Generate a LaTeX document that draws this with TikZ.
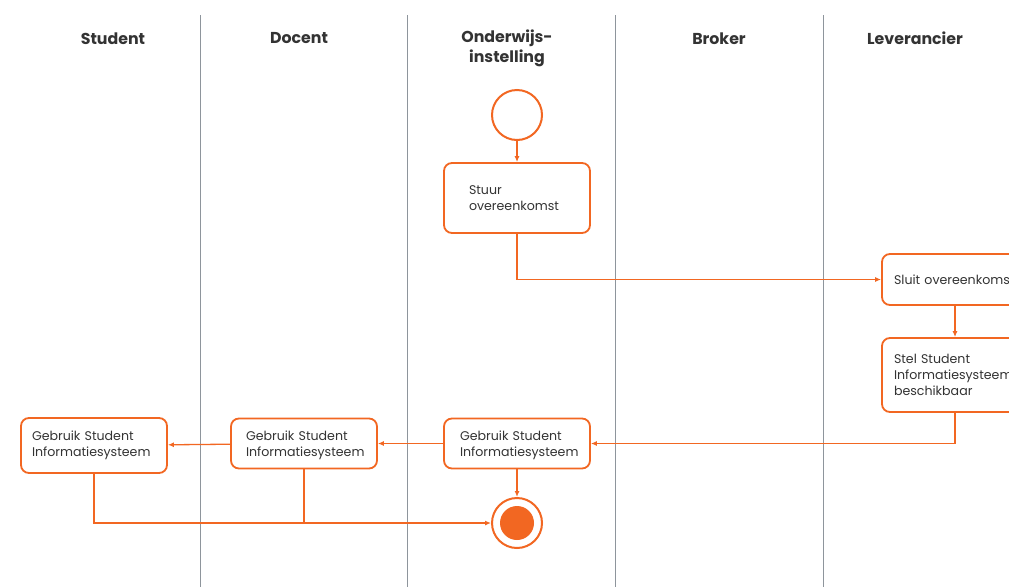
\documentclass[tikz,border=0pt]{standalone}
\usepackage{fontspec}
\setmainfont{Poppins}
\usetikzlibrary{arrows.meta}
\definecolor{orng}{HTML}{F26722}
\definecolor{lanec}{HTML}{8E959C}
\definecolor{txt}{HTML}{333333}
\begin{document}
\begin{tikzpicture}[x=1pt,y=-1pt,
  act/.style={draw=orng,line width=1.8pt,rounded corners=8pt,fill=white,align=left,
    font=\fontsize{12.6}{16}\selectfont,text=txt,inner ysep=0pt,minimum width=146pt},
  flow/.style={draw=orng,line width=1.3pt,-{Latex[length=6pt,width=5pt]}},
  plain/.style={draw=orng,line width=1.3pt},
  hdr/.style={font=\fontsize{15.8}{20}\selectfont\bfseries,text=txt,align=center},
  lanel/.style={draw=lanec,line width=0.7pt}]
\clip (0,0) rectangle (1009,587);
\fill[white] (0,0) rectangle (1009,587);
% lanes
\foreach \x in {200,407,615,823} \draw[lanel] (\x,15) -- (\x,587);
% headers
\node[hdr] (h1) at (113,38.5) {Student};
\node[hdr] (h2) at (299,38.5) {Docent};
\node[hdr] (h3) at (507,48.5) {Onderwijs-\\instelling};
\node[hdr] (h4) at (719,38.5) {Broker};
\node[hdr] (h5) at (915,38.5) {Leverancier};
% nodes
\node[circle,draw=orng,line width=2pt,minimum size=50pt,inner sep=0pt] (start) at (517,115) {};
\node[act,minimum height=70pt,inner xsep=25pt,text width=96pt] (stuur) at (517,198) {Stuur\\overeenkomst};
\node[act,minimum height=51pt,inner xsep=12pt,text width=122pt] (sluit) at (955,279.5) {Sluit overeenkomst};
\node[act,minimum height=74pt,inner xsep=12pt,text width=122pt] (stel) at (955,375) {Stel Student\\Informatiesysteem\\beschikbaar};
\node[act,minimum height=50pt,inner xsep=16pt,text width=114pt] (g3) at (517,443.5) {\rule{0pt}{14pt}Gebruik Student\\Informatiesysteem};
\node[act,minimum height=50pt,inner xsep=15pt,text width=116pt] (g2) at (304,443.5) {\rule{0pt}{14pt}Gebruik Student\\Informatiesysteem};
\node[act,minimum height=55pt,inner xsep=11pt,text width=124pt] (g1) at (94,445.5) {Gebruik Student\\Informatiesysteem};
\node[circle,draw=orng,line width=2pt,minimum size=50pt,inner sep=0pt] (end) at (517,523) {};
\fill[orng] (end.center) circle (17);
% connectors
\draw[flow] (start) -- (stuur);
\draw[flow] (stuur.south) |- (sluit.west);
\draw[flow] (sluit) -- (stel);
\draw[flow] (stel.south) |- (g3.east);
\draw[flow] (g3) -- (g2);
\draw[flow] (g2) -- (g1);
\draw[flow] (g3) -- (end);
\draw[flow] (g1.south) |- (end.west);
\draw[plain] (g2.south) -- (g2.south |- end.west);
\end{tikzpicture}
\end{document}
